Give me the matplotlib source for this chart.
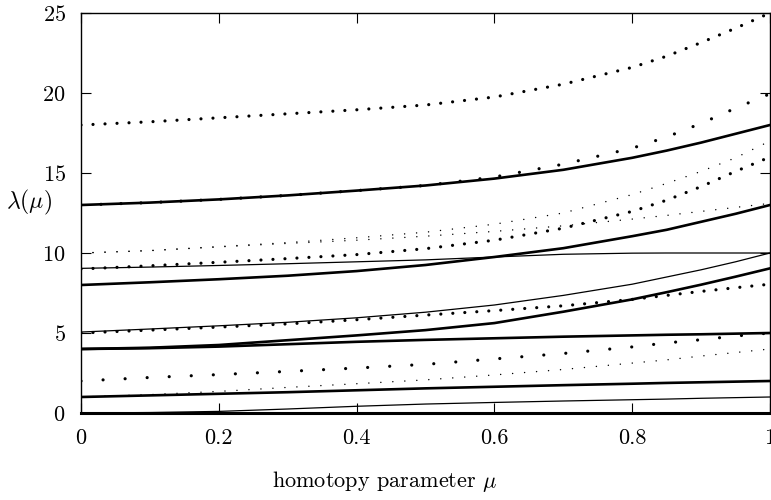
import numpy as np
import matplotlib
matplotlib.use("Agg")
import matplotlib.pyplot as plt

# eigenvalue branches lambda(mu)
mu = [0.0, 0.1, 0.2, 0.3, 0.4, 0.5, 0.6, 0.7, 0.8, 0.85, 0.9, 0.95, 1.0]

# solid thick
lam_0 = [0, 0, 0, 0, 0, 0, 0, 0, 0, 0, 0, 0, 0]
lam_1 = [1.0, 1.1, 1.2, 1.3, 1.42, 1.54, 1.64, 1.74, 1.83, 1.88, 1.92, 1.96, 2.0]
lam_4a = [4.0, 4.05, 4.15, 4.3, 4.45, 4.57, 4.67, 4.77, 4.85, 4.89, 4.92, 4.96, 5.0]
lam_4b = [4.0, 4.08, 4.25, 4.55, 4.85, 5.18, 5.62, 6.33, 7.1, 7.55, 8.02, 8.52, 9.04]
lam_8 = [8.0, 8.17, 8.36, 8.58, 8.87, 9.25, 9.75, 10.3, 11.05, 11.45, 11.95, 12.45, 13.0]
lam_13 = [13.0, 13.15, 13.35, 13.6, 13.9, 14.22, 14.65, 15.2, 15.95, 16.4, 16.9, 17.45, 18.0]

# solid thin
lam_0t = [0.0, 0.03, 0.1, 0.25, 0.42, 0.56, 0.66, 0.75, 0.83, 0.87, 0.92, 0.96, 1.0]
lam_5 = [5.06, 5.25, 5.45, 5.67, 5.95, 6.3, 6.75, 7.35, 8.05, 8.5, 8.95, 9.45, 10.0]
lam_9 = [9.04, 9.12, 9.22, 9.33, 9.45, 9.57, 9.75, 9.92, 9.99, 10.0, 10.0, 10.0, 10.0]

# dotted, big dots
dot_2 = [2.0, 2.22, 2.4, 2.6, 2.81, 3.04, 3.38, 3.72, 4.13, 4.38, 4.58, 4.81, 5.0]
dot_5 = [5.0, 5.18, 5.37, 5.57, 5.83, 6.12, 6.4, 6.7, 7.1, 7.35, 7.6, 7.83, 8.05]
dot_9 = [9.0, 9.2, 9.42, 9.65, 9.9, 10.27, 10.8, 11.55, 12.6, 13.3, 14.15, 15.1, 16.0]
dot_13 = [13.0, 13.15, 13.35, 13.6, 13.9, 14.22, 14.75, 15.55, 16.55, 17.25, 18.1, 19.05, 19.95]
dot_18 = [18.0, 18.2, 18.45, 18.7, 18.95, 19.25, 19.75, 20.55, 21.6, 22.3, 23.15, 24.05, 25.0]

# dotted, small dots
sdot_1 = [1.0, 1.15, 1.35, 1.6, 1.83, 2.07, 2.38, 2.72, 3.12, 3.32, 3.56, 3.78, 4.0]
sdot_10a = [10.0, 10.15, 10.4, 10.65, 10.95, 11.3, 11.8, 12.5, 13.65, 14.35, 15.1, 15.95, 17.0]
sdot_10b = [10.0, 10.15, 10.38, 10.6, 10.8, 11.05, 11.35, 11.7, 12.12, 12.35, 12.6, 12.85, 13.1]

plt.rcParams['font.family'] = 'cmr10'
plt.rcParams['mathtext.fontset'] = 'cm'
plt.rcParams['axes.formatter.use_mathtext'] = True

fig = plt.figure(figsize=(7.71, 5.0), dpi=100)
ax = fig.add_axes([81 / 771, 87 / 500, 689 / 771, 400 / 500])

for y in [lam_1, lam_4a, lam_4b, lam_8, lam_13]:
    ax.plot(mu, y, color='black', lw=1.9)
ax.plot(mu, lam_0, color='black', lw=2.2, clip_on=False)
for y in [lam_0t, lam_5, lam_9]:
    ax.plot(mu, y, color='black', lw=0.9)

big = dict(color='black', lw=2.3, dash_capstyle='round')
ax.plot(mu, dot_2, ls=(0, (0.01, 6.9)), **big)
ax.plot(mu, dot_5, ls=(0, (0.01, 3.75)), **big)
ax.plot(mu, dot_9, ls=(0, (0.01, 3.75)), **big)
ax.plot(mu, dot_13, ls=(0, (0.01, 6.25)), **big)
ax.plot(mu, dot_18, ls=(0, (0.01, 3.75)), **big)

small = dict(color='black', lw=1.1, dash_capstyle='round')
for y in [sdot_1, sdot_10a, sdot_10b]:
    ax.plot(mu, y, ls=(0, (0.01, 7.85)), **small)

ax.set_xlim(0, 1)
ax.set_ylim(0, 25)
ax.set_xticks([0, 0.2, 0.4, 0.6, 0.8, 1])
ax.set_xticklabels(['0', '0.2', '0.4', '0.6', '0.8', '1'])
ax.set_yticks([0, 5, 10, 15, 20, 25])
ax.tick_params(direction='in', length=7, width=0.8, top=True, right=True,
               labelsize=16, pad=11)
for s in ax.spines.values():
    s.set_linewidth(1.0)

ax.set_ylabel(r'$\lambda(\mu)$', fontsize=17, rotation=0)
ax.yaxis.set_label_coords(-0.075, 0.49)
fig.text(385 / 771, 18 / 500, r'homotopy parameter $\mu$', fontsize=16,
         ha='center', va='center')

fig.savefig('out.png', dpi=100)
